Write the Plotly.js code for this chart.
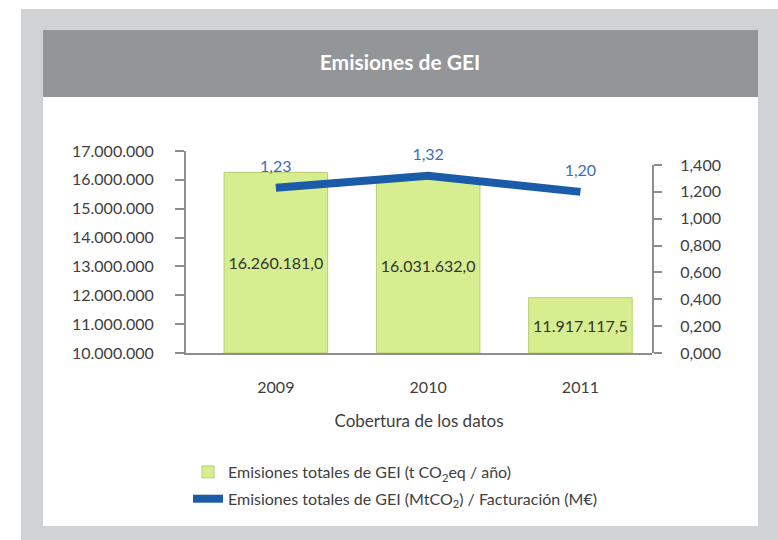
<!DOCTYPE html>
<html>
<head>
<meta charset="utf-8">
<script src="https://cdn.plot.ly/plotly-3.0.1.min.js"></script>
<style>
html,body{margin:0;padding:0;background:#ffffff;}
#chart{width:778px;height:540px;}
</style>
</head>
<body>
<div id="chart"></div>
<script>
// ---- data ----
const years = ['2009', '2010', '2011'];
const emisionesTotales = [16260181.0, 16031632.0, 11917117.5];
const emisionesPorFacturacion = [1.23, 1.32, 1.20];
const leftTicks = [10000000, 11000000, 12000000, 13000000, 14000000, 15000000, 16000000, 17000000];
const rightTicks = [0, 0.2, 0.4, 0.6, 0.8, 1.0, 1.2, 1.4];
const chartTitle = 'Emisiones de GEI';
const xTitle = 'Cobertura de los datos';
const barName = 'Emisiones totales de GEI (t CO<sub>2</sub>eq / año)';
const lineName = 'Emisiones totales de GEI (MtCO<sub>2</sub>) / Facturación (M€)';

// ---- layout helpers (pixel -> paper) ----
const W = 778, H = 540;
const L = 186, R = 126, T = 151, B = 187;
const pw = W - L - R, ph = H - T - B;
const px = v => (v - L) / pw;
const py = v => (H - B - v) / ph;

const FONT = 'Lato, "Open Sans", sans-serif';
const TXT = '#404040';
const AXIS = '#8e8e8e';

// bars start at the bottom of the left axis (broken axis, as in the original)
const yMin = leftTicks[0];
const yMax = leftTicks[leftTicks.length - 1];

const traces = [
  {
    type: 'bar',
    name: barName,
    x: years,
    base: yMin,
    y: emisionesTotales.map(v => v - yMin),
    customdata: emisionesTotales,
    width: 0.68,
    marker: {color: '#d6ee90', line: {color: '#b9cf72', width: 1}},
    texttemplate: '%{customdata:,.1f}',
    textposition: 'inside',
    insidetextanchor: 'middle',
    textangle: 0,
    constraintext: 'none',
    textfont: {family: FONT, size: 16, color: '#333333'},
    legendgroup: 'a',
    hoverinfo: 'skip'
  },
  {
    type: 'scatter',
    mode: 'lines+markers+text',
    name: lineName,
    x: years,
    y: emisionesPorFacturacion,
    yaxis: 'y2',
    line: {color: '#1b5ca8', width: 8},
    marker: {size: 18, color: 'rgba(0,0,0,0)', line: {width: 0}},
    texttemplate: '%{y:.2f}',
    textposition: 'top center',
    textfont: {family: FONT, size: 16, color: '#3a6db4'},
    legendgroup: 'b',
    hoverinfo: 'skip',
    cliponaxis: false
  }
];

const layout = {
  width: W, height: H,
  margin: {l: L, r: R, t: T, b: B, pad: 0},
  paper_bgcolor: '#ffffff',
  plot_bgcolor: 'rgba(0,0,0,0)',
  separators: ',.',
  font: {family: FONT, size: 16, color: TXT},
  showlegend: true,
  title: {
    text: '<b>' + chartTitle + '</b>',
    font: {family: FONT, size: 21, color: '#ffffff'},
    xref: 'paper', x: px(400), xanchor: 'center',
    yref: 'container', y: 1 - 63 / H, yanchor: 'middle'
  },
  xaxis: {
    type: 'category',
    range: [-0.59, 2.47],
    showline: true, linecolor: AXIS, linewidth: 2,
    ticks: '', showgrid: false, zeroline: false,
    ticklabelstandoff: 19,
    tickfont: {family: FONT, size: 16, color: TXT},
    title: {text: xTitle, font: {family: FONT, size: 17, color: TXT}, standoff: 20},
    automargin: false
  },
  yaxis: {
    range: [yMin, yMax],
    tickvals: leftTicks,
    tickformat: ',.0f',
    showline: true, linecolor: AXIS, linewidth: 2,
    ticks: 'outside', ticklen: 9, tickwidth: 2, tickcolor: AXIS,
    showgrid: false, zeroline: false,
    ticklabelstandoff: 18,
    tickfont: {family: FONT, size: 16, color: TXT},
    automargin: false
  },
  yaxis2: {
    domain: [0, py(165)],
    anchor: 'x',
    side: 'right',
    range: [0, 1.4],
    tickvals: rightTicks,
    tickformat: '.3f',
    showline: true, linecolor: AXIS, linewidth: 2,
    ticks: 'outside', ticklen: 8, tickwidth: 2, tickcolor: AXIS,
    showgrid: false, zeroline: false,
    ticklabelstandoff: 15,
    tickfont: {family: FONT, size: 16, color: TXT},
    automargin: false
  },
  legend: {
    x: px(188), xanchor: 'left',
    y: py(455), yanchor: 'top',
    orientation: 'v',
    traceorder: 'grouped',
    tracegroupgap: 3,
    bgcolor: 'rgba(0,0,0,0)',
    font: {family: FONT, size: 16, color: TXT}
  },
  shapes: [
    // outer grey frame
    {type: 'rect', xref: 'paper', yref: 'paper', layer: 'below',
     x0: px(21), x1: px(778), y0: py(540), y1: py(9),
     fillcolor: '#d1d2d4', line: {width: 0}},
    // white panel
    {type: 'rect', xref: 'paper', yref: 'paper', layer: 'below',
     x0: px(43), x1: px(758), y0: py(526), y1: py(30),
     fillcolor: '#ffffff', line: {width: 0}},
    // title band
    {type: 'rect', xref: 'paper', yref: 'paper', layer: 'below',
     x0: px(43), x1: px(758), y0: py(97), y1: py(30),
     fillcolor: '#939598', line: {width: 0}}
  ]
};

Plotly.newPlot('chart', traces, layout, {displayModeBar: false, staticPlot: true});
</script>
</body>
</html>
